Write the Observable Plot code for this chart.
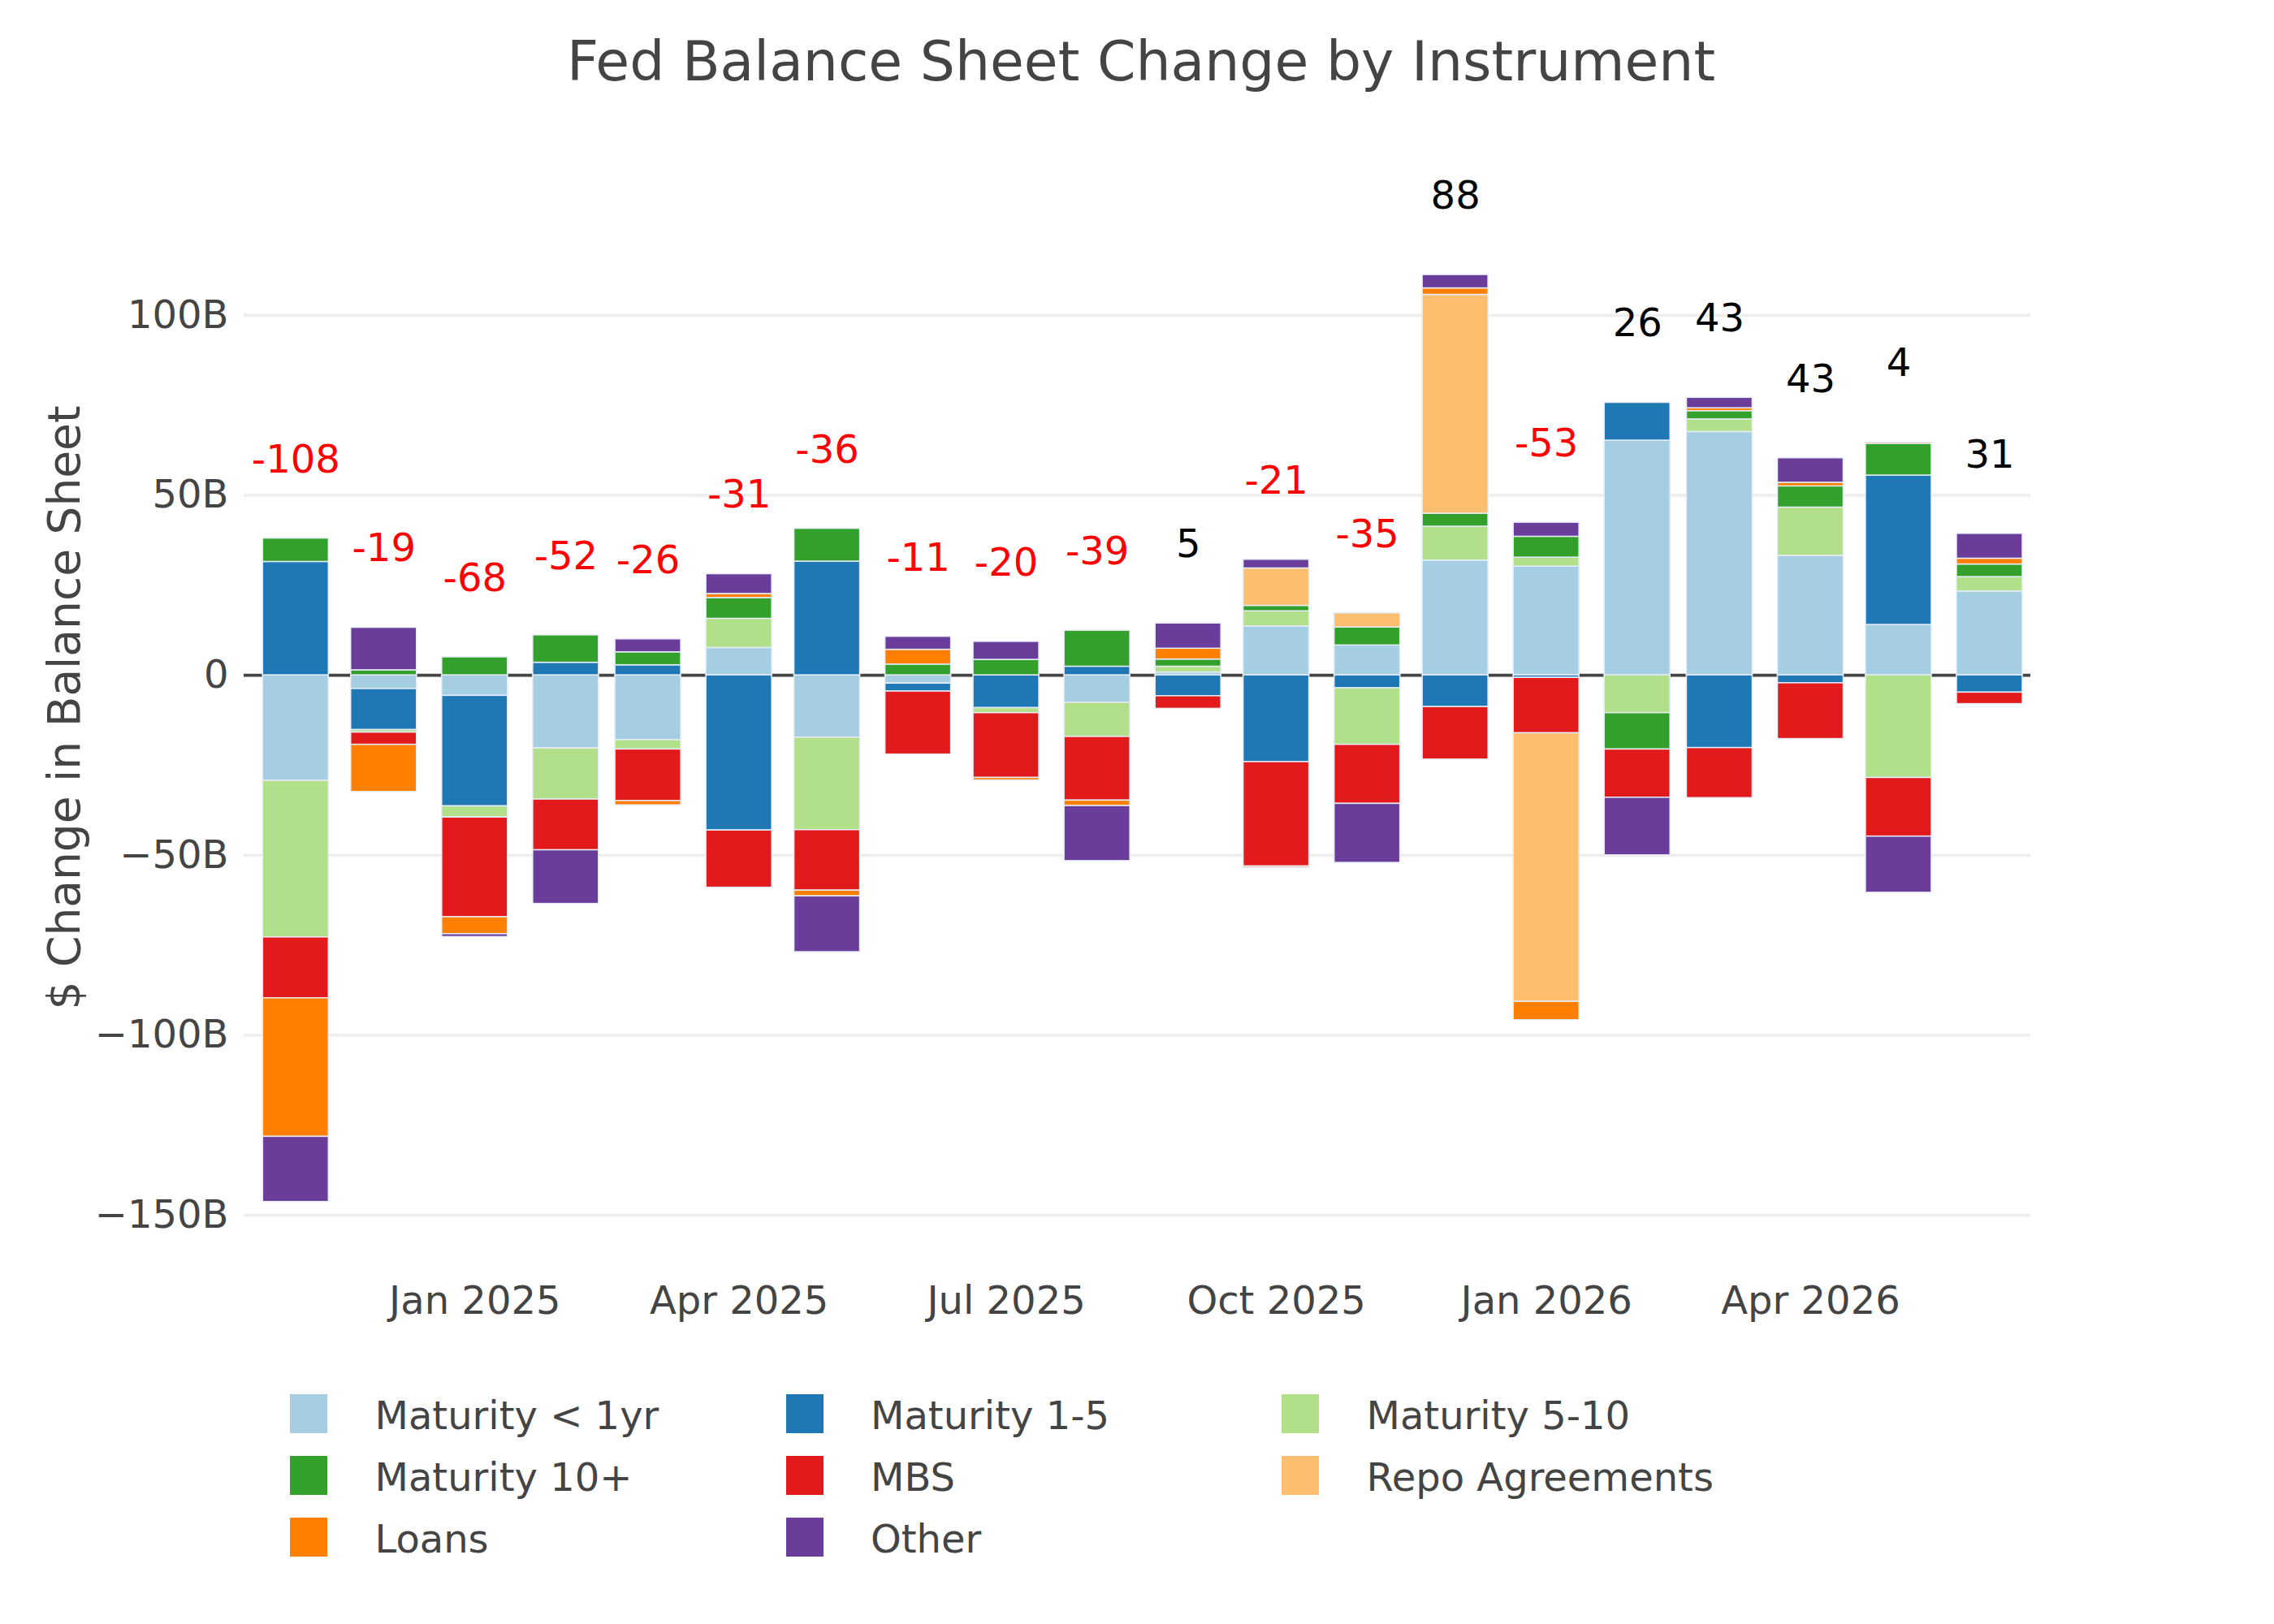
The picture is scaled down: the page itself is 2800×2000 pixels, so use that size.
<!DOCTYPE html>
<html><head><meta charset="utf-8">
<script src="https://cdn.jsdelivr.net/npm/d3@7"></script>
<script src="https://cdn.jsdelivr.net/npm/@observablehq/plot@0.6"></script>
<style>
body{margin:0;background:#fff;font-family:"DejaVu Sans",sans-serif;color:#444;width:2800px;}
#title{height:150px;box-sizing:border-box;padding-top:6px;padding-left:10px;line-height:140px;font-size:68px;text-align:center;white-space:nowrap;}
#legend{display:grid;grid-template-columns:repeat(3,610.5px);grid-auto-rows:76px;padding-left:357px;margin-top:3px;}
.item{display:flex;align-items:center;font-size:48px;white-space:nowrap;}
.item span{position:relative;top:2px;}
.sw{width:46px;height:48px;margin-right:58.5px;flex:none;}
</style></head><body>
<div id="title">Fed Balance Sheet Change by Instrument</div>
<div id="chart"></div>
<div id="legend"></div>
<script>
const months = ["2024-11-01","2024-12-01","2025-01-01","2025-02-01","2025-03-01","2025-04-01","2025-05-01","2025-06-01","2025-07-01","2025-08-01","2025-09-01","2025-10-01","2025-11-01","2025-12-01","2026-01-01","2026-02-01","2026-03-01","2026-04-01","2026-05-01","2026-06-01"];
const seriesNames = ["Maturity < 1yr","Maturity 1-5","Maturity 5-10","Maturity 10+","MBS","Repo Agreements","Loans","Other"];
const seriesColors = ["#a6cee3","#1f78b4","#b2df8a","#33a02c","#e31a1c","#fdbf6f","#ff7f00","#6a3d9a"];
// values in $B
const maturityUnder1 = [-29.3,-3.8,-5.7,-20.3,-18.0,7.6,-17.3,-2.3,0,-7.6,0.8,13.6,8.3,31.9,30.2,65.2,67.6,33.2,14.0,23.3];
const maturity1to5   = [31.5,-11.4,-30.7,3.5,2.8,-43.1,31.6,-2.2,-9.1,2.4,-5.8,-24.1,-3.6,-8.8,-0.7,10.5,-20.2,-2.2,41.5,-4.8];
const maturity5to10  = [-43.5,-0.7,-3.1,-14.2,-2.6,8.1,-25.7,0,-1.4,-9.5,1.6,4.2,-15.7,9.4,2.5,-10.5,3.5,13.4,-28.5,4.0];
const maturity10plus = [6.5,1.4,5.0,7.6,3.6,5.8,9.1,3.0,4.3,10.0,2.0,1.5,5.0,3.6,5.8,-10.1,2.3,5.9,8.8,3.5];
const mbs            = [-16.9,-3.4,-27.7,-14.1,-14.3,-15.9,-16.8,-17.5,-18.0,-17.7,-3.5,-29.0,-16.4,-14.6,-15.4,-13.4,-13.9,-15.5,-16.3,-3.2];
const repo           = [0,0,0,0,0,0,0,0,0,0,0,10.4,3.9,60.8,-74.6,0,0,0,0,0];
const loans          = [-38.5,-13.1,-4.7,0,-1.2,1.1,-1.6,4.1,-0.7,-1.5,3.0,-0.4,0,1.8,-5.1,0,0.8,1.0,0.4,1.6];
const other          = [-18.1,11.8,-0.8,-14.9,3.6,5.5,-15.5,3.6,5.0,-15.3,7.0,2.4,-16.4,3.7,3.9,-16.0,2.9,6.8,-15.6,6.9];
const seriesValues = [maturityUnder1, maturity1to5, maturity5to10, maturity10plus, mbs, repo, loans, other];

const yTicks = [100, 50, 0, -50, -100, -150];
const yTickLabels = ["100B","50B","0","\u221250B","\u2212100B","\u2212150B"];
const xTicks = ["2025-01-01","2025-04-01","2025-07-01","2025-10-01","2026-01-01","2026-04-01"];
const xTickLabels = ["Jan 2025","Apr 2025","Jul 2025","Oct 2025","Jan 2026","Apr 2026"];
const yTitle = "$ Change in Balance Sheet";

const dates = months.map(m => new Date(m + "T00:00:00Z"));
const minGap = d3.min(d3.pairs(dates, (a, b) => b - a));
const half = minGap * 0.8 / 2;

const rows = [];
seriesNames.forEach((s, si) => {
  dates.forEach((d, i) => {
    const v = seriesValues[si][i];
    if (v !== 0) rows.push({series: s, date: d, x1: new Date(+d - half), x2: new Date(+d + half), value: v});
  });
});
const totals = dates.map((d, i) => {
  const vals = seriesValues.map(a => a[i]);
  const net = d3.sum(vals);
  return {date: d, top: d3.sum(vals.filter(v => v > 0)), net, label: String(Math.round(net))};
});
const xTickDates = xTicks.map(t => new Date(t + "T00:00:00Z"));

const chart = Plot.plot({
  width: 2800, height: 1550,
  marginLeft: 300, marginRight: 300, marginTop: 25, marginBottom: 133,
  style: {fontFamily: '"DejaVu Sans", sans-serif', fontSize: "48px", color: "#444", background: "#fff", display: "block", overflow: "visible"},
  x: {type: "utc", domain: [new Date("2024-10-14T08:24:00Z"), new Date("2026-06-14T23:17:00Z")]},
  y: {domain: [-166, 148]},
  color: {domain: seriesNames, range: seriesColors},
  marks: [
    Plot.gridY(yTicks, {stroke: "#eeeeee", strokeOpacity: 1, strokeWidth: 3.75}),
    Plot.ruleY([0], {stroke: "#444", strokeWidth: 3.75}),
    Plot.rect(rows, Plot.stackY({x: "date", x1: "x1", x2: "x2", y: "value", fill: "series", stroke: "#E5ECF6", strokeWidth: 1.5})),
    Plot.text(totals.filter(d => d.net < 0), {x: "date", y: "top", text: "label", fill: "red", dy: -97, fontSize: 48}),
    Plot.text(totals.filter(d => d.net >= 0), {x: "date", y: "top", text: "label", fill: "black", dy: -97, fontSize: 48}),
    Plot.axisY({ticks: yTicks, tickFormat: d => yTickLabels[yTicks.indexOf(d)], tickSize: 0, tickPadding: 19, label: null}),
    Plot.axisX({ticks: xTickDates, tickFormat: d => xTickLabels[xTickDates.findIndex(t => +t === +d)], tickSize: 0, tickPadding: 16, label: null}),
    Plot.text([yTitle], {text: d => d, frameAnchor: "left", textAnchor: "middle", lineAnchor: "middle", rotate: -90, dx: -220, fontSize: 55, fill: "#444"})
  ]
});
document.getElementById("chart").appendChild(chart);

const legend = document.getElementById("legend");
seriesNames.forEach((s, i) => {
  const item = document.createElement("div");
  item.className = "item";
  const sw = document.createElement("div");
  sw.className = "sw";
  sw.style.background = seriesColors[i];
  const t = document.createElement("span");
  t.textContent = s;
  item.appendChild(sw); item.appendChild(t);
  legend.appendChild(item);
});
</script>
</body></html>
